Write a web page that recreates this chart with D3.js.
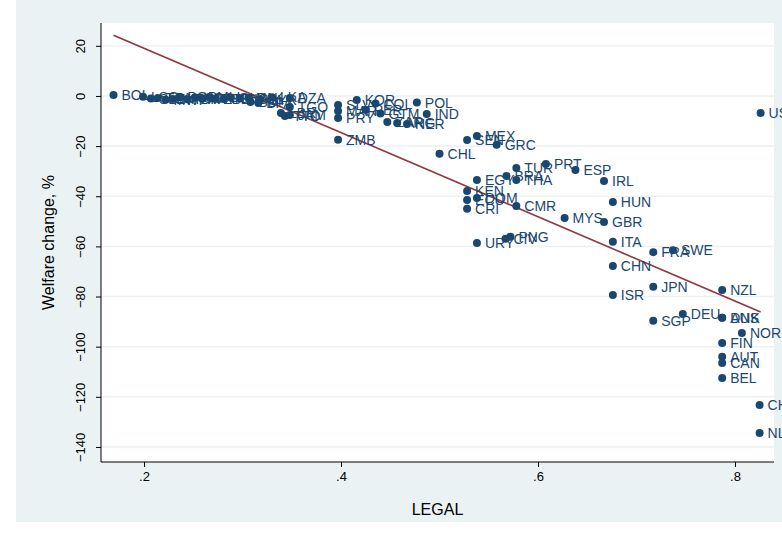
<!DOCTYPE html>
<html><head><meta charset="utf-8">
<script src="https://cdn.jsdelivr.net/npm/d3@7"></script>
<style>body{margin:0;background:#fff;}svg{display:block;}text{font-family:"Liberation Sans",Arial,sans-serif;}</style>
</head><body>
<svg id="chart" width="782" height="537"></svg>
<script>
const codes = ["BOL","LSO","SLE","TZA","MWI","NPL","BGD","RWA","UGA","HTI","MLI","ETH","BEN","GHA","NGA","PAK","SYR","BDI","BFA","LKA","DZA",
  "LBR","TTO","TGO","JAM","SLV","MAR","PRY","KOR","PER","COL","GTM","ZAR","ARG","NER","POL","IND","ZMB",
  "SEN","MEX","GRC","CHL","EGY","BRA","TUR","THA","PRT","ESP","IRL","KEN","ECU","DOM","CRI","CMR","HUN","MYS","GBR",
  "URY","CIV","PNG","ITA","FRA","SWE","CHN","ISR","JPN","NZL","SGP","DEU","DNK","AUS","NOR","FIN","AUT","CAN","BEL","CHE","NLD","USA"];
const legal = [0.169,0.199,0.207,0.214,0.222,0.229,0.236,0.244,0.252,0.259,0.266,0.272,0.281,0.288,0.297,0.306,0.318,0.308,0.316,0.330,0.348,
  0.339,0.343,0.348,0.348,0.397,0.397,0.397,0.416,0.425,0.435,0.440,0.447,0.457,0.467,0.477,0.487,0.397,
  0.528,0.538,0.558,0.500,0.538,0.568,0.578,0.578,0.608,0.638,0.667,0.528,0.528,0.538,0.528,0.578,0.676,0.627,0.667,
  0.538,0.567,0.572,0.676,0.717,0.737,0.676,0.676,0.717,0.787,0.717,0.747,0.787,0.787,0.807,0.787,0.787,0.787,0.787,0.825,0.825,0.826];
const welfare = [0.4,-0.3,-1.0,-0.8,-1.5,-1.2,-0.5,-1.3,-0.6,-1.0,-0.4,-1.0,-1.2,-0.6,-1.0,-0.8,-1.5,-2.4,-2.8,-0.5,-0.8,
  -6.8,-8.0,-4.4,-7.6,-3.6,-6.0,-8.8,-1.6,-5.5,-3.0,-7.0,-10.4,-10.8,-11.2,-2.6,-7.2,-17.5,
  -17.6,-16.0,-19.5,-23.1,-33.5,-31.9,-28.7,-33.5,-27.1,-29.5,-33.9,-37.9,-41.5,-40.7,-45.0,-43.9,-42.3,-48.7,-50.3,
  -58.6,-57.0,-56.2,-58.2,-62.3,-61.5,-67.8,-79.4,-76.1,-77.4,-89.7,-87.0,-88.5,-88.5,-94.5,-98.5,-104.0,-106.5,-112.5,-123.3,-134.4,-6.8];
const yTicks = [20,0,-20,-40,-60,-80,-100,-120,-140];
const xTicks = [0.2,0.4,0.6,0.8];
const xTickLabels = [".2",".4",".6",".8"];
const fitIntercept = 52.6, fitSlope = -168;
const xTitle = "LEGAL", yTitle = "Welfare change, %";

const svg = d3.select("#chart");
const plot = {left:101, right:774, top:23, bottom:462};
const x = d3.scaleLinear().domain([0.1563,0.8396]).range([plot.left,plot.right]);
const y = d3.scaleLinear().domain([29.1,-146.0]).range([plot.top,plot.bottom]);
const navy = "#1a476f", bg = "#eaf2f3";

svg.append("rect").attr("x",16).attr("y",0).attr("width",766).attr("height",522).attr("fill",bg);
svg.append("rect").attr("x",plot.left).attr("y",plot.top).attr("width",plot.right-plot.left).attr("height",plot.bottom-plot.top).attr("fill","#fff");

// gridlines
svg.append("g").selectAll("line").data(yTicks).join("line")
  .attr("x1",plot.left).attr("x2",plot.right).attr("y1",d=>y(d)).attr("y2",d=>y(d))
  .attr("stroke",bg).attr("stroke-width",1.5);

// axes
const yAxis = d3.axisLeft(y).tickValues(yTicks).tickSize(5).tickPadding(3);
const gy = svg.append("g").attr("transform",`translate(${plot.left},0)`).call(yAxis);
gy.select(".domain").attr("d",`M0,${plot.top}V${plot.bottom}`).attr("stroke","#000");
gy.selectAll(".tick line").attr("stroke","#000");
gy.selectAll(".tick text").attr("x",0).attr("dy",null).attr("y",0)
  .attr("text-anchor","middle").attr("font-size",13).attr("fill","#000")
  .attr("transform","translate(-16,0) rotate(-90)");

const xAxis = d3.axisBottom(x).tickValues(xTicks).tickFormat((d,i)=>xTickLabels[i]).tickSize(5).tickPadding(5);
const gx = svg.append("g").attr("transform",`translate(0,${plot.bottom})`).call(xAxis);
gx.select(".domain").attr("d",`M${plot.left},0H${plot.right}`).attr("stroke","#000");
gx.selectAll(".tick line").attr("stroke","#000");
gx.selectAll(".tick text").attr("font-size",13).attr("fill","#000");

svg.append("text").attr("x",(plot.left+plot.right)/2).attr("y",515).attr("text-anchor","middle")
  .attr("font-size",16).attr("fill","#000").text(xTitle);
svg.append("text").attr("transform",`translate(54,${(plot.top+plot.bottom)/2}) rotate(-90)`)
  .attr("text-anchor","middle").attr("font-size",16).attr("fill","#000").text(yTitle);

const data = codes.map((c,i)=>({c, x:legal[i], y:welfare[i]}));
const g = svg.append("g");

// fit line
const xmin = d3.min(legal), xmax = d3.max(legal);
g.append("line").attr("x1",x(xmin)).attr("y1",y(fitIntercept+fitSlope*xmin))
  .attr("x2",x(xmax)).attr("y2",y(fitIntercept+fitSlope*xmax))
  .attr("stroke","#90353b").attr("stroke-width",1.6);

const pts = g.append("g");
data.forEach(d=>{
  pts.append("circle").attr("cx",x(d.x)).attr("cy",y(d.y)).attr("r",4).attr("fill",navy);
  pts.append("text").attr("x",x(d.x)+8).attr("y",y(d.y)).attr("dy","0.36em")
    .attr("font-size",14).attr("fill",navy).text(d.c);
});
</script>
</body></html>
